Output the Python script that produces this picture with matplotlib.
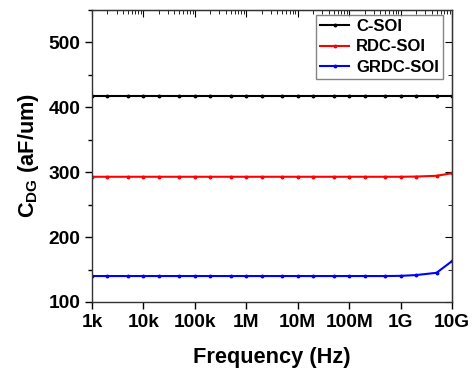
import matplotlib
matplotlib.use("Agg")
import matplotlib.pyplot as plt
import numpy as np
from matplotlib.ticker import LogLocator, NullFormatter, MultipleLocator

plt.rcParams['font.family'] = ['Liberation Sans', 'DejaVu Sans']
plt.rcParams['font.weight'] = 'bold'
plt.rcParams['mathtext.fontset'] = 'custom'
plt.rcParams['mathtext.rm'] = 'Liberation Sans:bold'
plt.rcParams['mathtext.bf'] = 'Liberation Sans:bold'
plt.rcParams['mathtext.it'] = 'Liberation Sans:bold'

freq = [1e3, 2e3, 5e3, 1e4, 2e4, 5e4, 1e5, 2e5, 5e5, 1e6, 2e6, 5e6, 1e7, 2e7, 5e7,
        1e8, 2e8, 5e8, 1e9, 2e9, 5e9, 1e10]
c_soi = [417]*22
rdc_soi = [293]*19 + [293.3, 294.5, 298.5]
grdc_soi = [140]*18 + [140.3, 141.5, 145, 163]
xticks = [1e3, 1e4, 1e5, 1e6, 1e7, 1e8, 1e9, 1e10]
xticklabels = ['1k', '10k', '100k', '1M', '10M', '100M', '1G', '10G']
yticks = [100, 200, 300, 400, 500]

fig = plt.figure(figsize=(4.76, 3.69), dpi=100)
ax = fig.add_axes([92/476, 1-302/369, 360/476, 292/369])

ax.plot(freq, c_soi, color='black', lw=1.5, marker='o', ms=1.8, label='C-SOI')
ax.plot(freq, rdc_soi, color='red', lw=1.5, marker='o', ms=1.8, label='RDC-SOI')
ax.plot(freq, grdc_soi, color='blue', lw=1.5, marker='o', ms=1.8, label='GRDC-SOI')

ax.set_xscale('log')
ax.set_xlim(1e3, 1e10)
ax.set_ylim(100, 550)
ax.set_xticks(xticks)
ax.set_xticklabels(xticklabels)
ax.xaxis.set_minor_locator(LogLocator(base=10, subs=np.arange(2, 10)))
ax.xaxis.set_minor_formatter(NullFormatter())
ax.set_yticks(yticks)
ax.yaxis.set_minor_locator(MultipleLocator(50))

ax.tick_params(which='both', direction='out', labelsize=13.8, width=1)
ax.tick_params(which='major', length=5)
ax.tick_params(which='minor', length=3)
secx = ax.secondary_xaxis('top')
secx.set_xticks(xticks)
secx.set_xticklabels([])
secx.xaxis.set_minor_locator(LogLocator(base=10, subs=np.arange(2, 10)))
secx.xaxis.set_minor_formatter(NullFormatter())
secx.tick_params(which='both', direction='in')
secx.tick_params(which='major', length=5)
secx.tick_params(which='minor', length=3)
secy = ax.secondary_yaxis('right')
secy.set_yticks(yticks)
secy.set_yticklabels([])
secy.yaxis.set_minor_locator(MultipleLocator(50))
secy.tick_params(which='both', direction='in')
secy.tick_params(which='major', length=5)
secy.tick_params(which='minor', length=3)
for s in list(ax.spines.values()):
    s.set_linewidth(1)
    s.set_color('#333333')

for lab in ax.get_xticklabels() + ax.get_yticklabels():
    lab.set_fontweight('bold')

ax.set_xlabel('Frequency (Hz)', fontsize=15.7, fontweight='bold', labelpad=12)
ax.set_ylabel(r'C$_{\mathrm{DG}}$ (aF/um)', fontsize=15.7, fontweight='bold', labelpad=5)

leg = ax.legend(loc='upper right', bbox_to_anchor=(0.975, 0.983), borderaxespad=0,
                frameon=True, fancybox=False, edgecolor='#666666',
                handlelength=1.75, handletextpad=0.4, borderpad=0.25, labelspacing=0.32,
                prop={'weight': 'bold', 'size': 12})
leg.get_frame().set_linewidth(1)

fig.savefig('out.png', dpi=100)
